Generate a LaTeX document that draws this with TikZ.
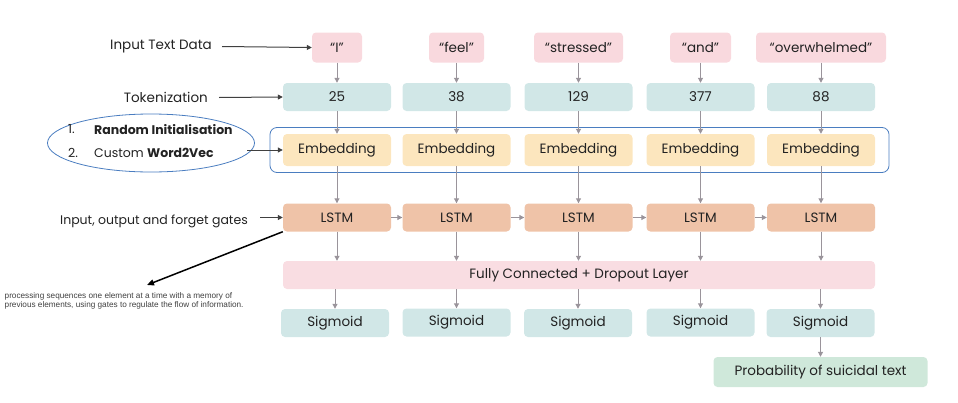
\documentclass[tikz,border=0pt]{standalone}
\usepackage{fontspec}
\setmainfont{Poppins}
\newfontfamily\arialfont{Liberation Sans}
\usetikzlibrary{arrows.meta,calc}
\definecolor{wordpink}{HTML}{F9D9DE}
\definecolor{tokteal}{HTML}{D1E7E7}
\definecolor{embyel}{HTML}{FCE6BE}
\definecolor{lstmor}{HTML}{EFC3A8}
\definecolor{fcpink}{HTML}{F9DDE2}
\definecolor{probgreen}{HTML}{CFE8DA}
\definecolor{outblue}{HTML}{4A7DC0}
\definecolor{arrgray}{HTML}{9A949B}
\definecolor{txtdark}{HTML}{222222}
\begin{document}
\begin{tikzpicture}[x=1pt,y=-1pt,
  box/.style={rounded corners=4pt, inner sep=0pt, minimum height=28pt, minimum width=108pt, text=txtdark, font=\fontsize{13.5}{16}\selectfont},
  wordbox/.style={box, fill=wordpink, minimum height=30pt},
  tokbox/.style={box, fill=tokteal},
  embbox/.style={box, fill=embyel, minimum height=32pt},
  lstmbox/.style={box, fill=lstmor},
  sigbox/.style={box, fill=tokteal},
  lab/.style={inner sep=0pt, text=txtdark, font=\fontsize{13.5}{16}\selectfont},
  smalllab/.style={inner sep=0pt, text=txtdark, font=\fontsize{12.5}{15}\selectfont},
  arr/.style={draw=arrgray, line width=1pt, -{Triangle[length=5pt,width=5pt]}},
  darr/.style={draw=black!75, line width=1pt, -{Triangle[length=5pt,width=5pt]}}
]
\useasboundingbox (0,0) rectangle (958,402);

% blue outline around embeddings
\draw[outblue, line width=0.8pt, rounded corners=7pt] (270,127.5) rectangle (889,172.5);

% words
\node[wordbox, minimum width=50pt] (w1) at (337,47.5) {“I”};
\node[wordbox, minimum width=55pt] (w2) at (456.5,47.5) {“feel”};
\node[wordbox, minimum width=89pt] (w3) at (578.5,47.5) {“stressed”};
\node[wordbox, minimum width=61pt] (w4) at (700.5,47.5) {“and”};
\node[wordbox, minimum width=130pt] (w5) at (821,47.5) {“overwhelmed”};

% tokens
\node[tokbox] (t1) at (337,97) {25};
\node[tokbox] (t2) at (456.5,97) {38};
\node[tokbox] (t3) at (578.5,97) {129};
\node[tokbox] (t4) at (700.5,97) {377};
\node[tokbox] (t5) at (821,97) {88};

% embeddings
\node[embbox] (e1) at (337,150) {Embedding};
\node[embbox] (e2) at (456.5,150) {Embedding};
\node[embbox] (e3) at (578.5,150) {Embedding};
\node[embbox] (e4) at (700.5,150) {Embedding};
\node[embbox] (e5) at (821,150) {Embedding};

% LSTMs
\node[lstmbox] (l1) at (337,217.5) {LSTM};
\node[lstmbox] (l2) at (456.5,217.5) {LSTM};
\node[lstmbox] (l3) at (578.5,217.5) {LSTM};
\node[lstmbox] (l4) at (700.5,217.5) {LSTM};
\node[lstmbox] (l5) at (821,217.5) {LSTM};

% FC
\node[box, fill=fcpink, minimum width=592pt] (fc) at (579,275) {Fully Connected + Dropout Layer};

% Sigmoids
\node[sigbox] (s1) at (335,323) {Sigmoid};
\node[sigbox] (s2) at (456.5,322.5) {Sigmoid};
\node[sigbox] (s3) at (578,323) {Sigmoid};
\node[sigbox] (s4) at (700.5,322.5) {Sigmoid};
\node[sigbox] (s5) at (820.5,323) {Sigmoid};

% Probability
\node[box, fill=probgreen, minimum width=214pt, minimum height=30pt] (p) at (820.5,372) {Probability of suicidal text};

% vertical arrows
\foreach \i in {1,...,5}{
  \draw[arr] (w\i) -- (t\i);
  \draw[arr] (t\i) -- (e\i);
  \draw[arr] (e\i) -- (l\i);
  \draw[arr] (l\i) -- (l\i |- fc.north);
  \draw[arr] (fc.south -| s\i) -- (s\i);
}
\draw[arr] (s5) -- (p);
% horizontal LSTM chain
\draw[arr] (l1) -- (l2);
\draw[arr] (l2) -- (l3);
\draw[arr] (l3) -- (l4);
\draw[arr] (l4) -- (l5);

% left labels
\node[lab, anchor=east] (lin) at (212,46.5) {Input Text Data};
\draw[darr] (lin.east) ++(10,0) coordinate (lin0) (lin0) -- (w1.west);
\node[lab, anchor=east] (ltok) at (208,97.5) {Tokenization};
\draw[darr] (ltok.east) ++(11,0) coordinate (ltok0) (ltok0) -- (t1.west);

% ellipse
\draw[outblue, line width=0.8pt] (151,143) ellipse [x radius=103.5pt, y radius=29pt];
\node[smalllab, anchor=west] (n1) at (68,129.5) {1.};
\node[smalllab, anchor=west] (r1) at (94,129.5) {\bfseries Random Initialisation};
\node[smalllab, anchor=west] (n2) at (68,152.5) {2.};
\node[smalllab, anchor=west] (r2) at (94,152.5) {Custom \textbf{Word2Vec}};
\coordinate (ell0) at (247,150);
\draw[darr] (ell0) -- (e1.west);

\node[smalllab, anchor=east] (lg) at (248,221) {Input, output and forget gates};
\coordinate (lg0) at (260,217.5);
\draw[darr] (lg0) -- (l1.west);

% black explanation arrow
\coordinate (ex0) at (147,285);
\draw[black, line width=1.5pt, -{Triangle[length=7pt,width=6pt]}] (l1.south west) -- (ex0);
\node[inner sep=0pt, anchor=north west, align=left, text=black!75, font=\arialfont\fontsize{8.2}{8.5}\selectfont] (expl) at (4.5,292.5) {processing sequences one element at a time with a memory of\\previous elements, using gates to regulate the flow of information.};
\end{tikzpicture}
\end{document}
